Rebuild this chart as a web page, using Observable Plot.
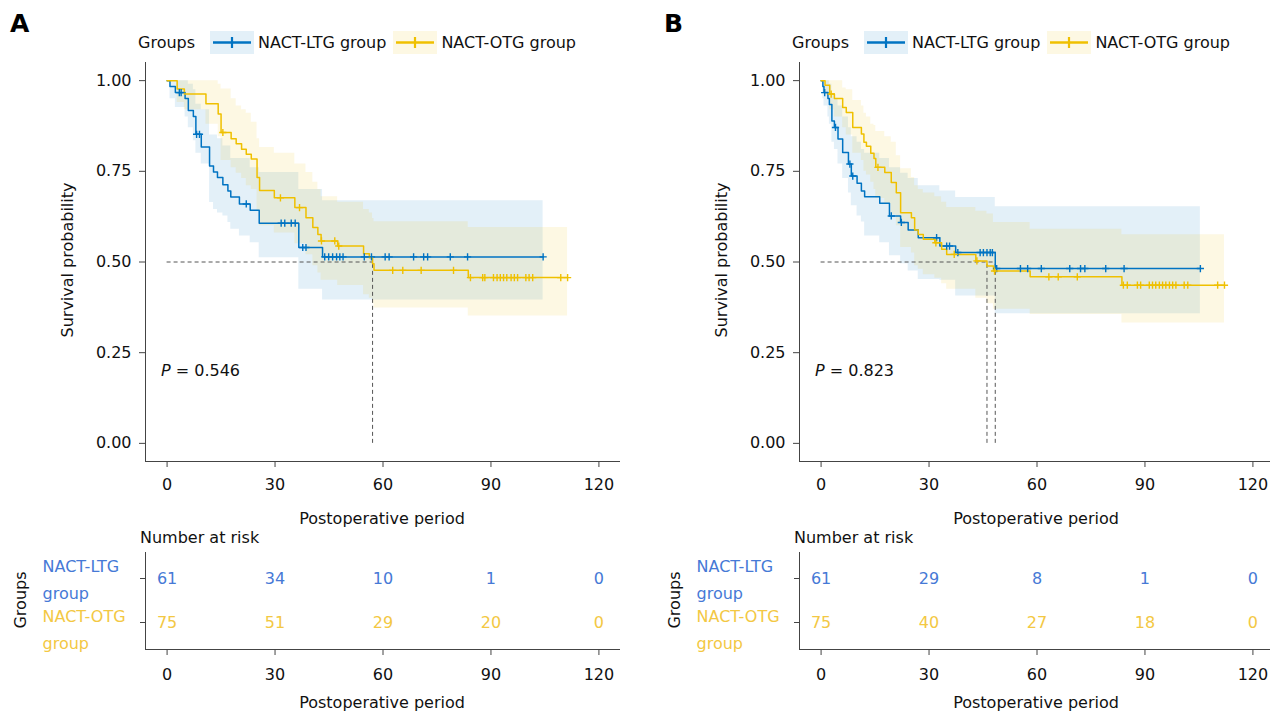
<!DOCTYPE html>
<html>
<head>
<meta charset="utf-8">
<script src="https://cdn.jsdelivr.net/npm/d3@7"></script>
<script src="https://cdn.jsdelivr.net/npm/@observablehq/plot@0.6"></script>
<style>
  html, body { margin: 0; padding: 0; background: #fff; }
  #root { position: relative; width: 1270px; height: 713px; overflow: hidden;
          font-family: "DejaVu Sans", Verdana, sans-serif; color: #111; }
  .abs { position: absolute; white-space: nowrap; line-height: 1; }
  .plotbox { position: absolute; width: 635px; }
  .plotbox svg { max-width: none !important; }
  .legend { position: absolute; display: flex; align-items: center; height: 23px; font-size: 16px; white-space: nowrap; }
  .sw { display: inline-block; width: 44px; height: 23px; margin: 0 4px 0 0; }
</style>
</head>
<body>
<div id="root"></div>
<script>
// ---------------- data ----------------
const groups = ["NACT-LTG group", "NACT-OTG group"];
const lineColors = ["#0073C2", "#EFC000"];
const tableColors = ["#4679D6", "#F3C843"];
const panelLetters = ["A", "B"];
const pValues = ["0.546", "0.823"];
const timeTicks = [0, 30, 60, 90, 120];
const survTicks = [0, 0.25, 0.5, 0.75, 1];

// Panel A, NACT-LTG: [time, survival, lower CI, upper CI]
const aLTG = [
  [0, 1, 1, 1], [0.8, 0.984, 0.95, 1], [2.3, 0.967, 0.926, 1], [5.0, 0.951, 0.90, 1],
  [5.9, 0.918, 0.87, 0.99], [7.3, 0.901, 0.834, 0.975], [8.0, 0.852, 0.80, 0.935],
  [9.5, 0.817, 0.77, 0.92], [11.8, 0.765, 0.664, 0.85], [12.9, 0.748, 0.645, 0.85],
  [14.0, 0.733, 0.635, 0.84], [15.5, 0.713, 0.627, 0.82], [16.9, 0.696, 0.609, 0.82],
  [17.7, 0.679, 0.59, 0.785], [20.1, 0.66, 0.572, 0.785], [23.1, 0.643, 0.553, 0.76],
  [25.6, 0.607, 0.512, 0.747], [36.6, 0.54, 0.425, 0.70], [43.2, 0.514, 0.395, 0.669]
];
const aLTGEnd = 104.5;
const aLTGCensor = [3.4, 3.9, 8.2, 9.0, 22.0, 31.7, 32.7, 34.5, 35.6, 37.7, 38.6, 43.8, 44.9, 46.0,
  47.1, 48.0, 48.9, 54.8, 56.8, 60.6, 61.7, 68.5, 71.3, 72.4, 78.7, 83.5, 104.5];

// Panel A, NACT-OTG
const aOTG = [
  [0, 1, 1, 1], [2.8, 0.977, 0.94, 1], [4.8, 0.963, 0.92, 1], [10.8, 0.936, 0.88, 1],
  [14.2, 0.908, 0.845, 0.99], [15.0, 0.857, 0.78, 0.977], [17.8, 0.84, 0.76, 0.95],
  [19.2, 0.826, 0.745, 0.93], [20.7, 0.811, 0.73, 0.92], [22.0, 0.797, 0.71, 0.91],
  [23.4, 0.784, 0.70, 0.885], [25.0, 0.733, 0.64, 0.84], [25.7, 0.697, 0.60, 0.816],
  [29.8, 0.677, 0.58, 0.80], [35.5, 0.65, 0.55, 0.77], [38.6, 0.622, 0.52, 0.747],
  [40.5, 0.595, 0.49, 0.72], [41.9, 0.576, 0.47, 0.70], [42.8, 0.558, 0.45, 0.68],
  [47.4, 0.544, 0.435, 0.665], [54.6, 0.523, 0.41, 0.645], [56.2, 0.512, 0.40, 0.635],
  [57.1, 0.495, 0.385, 0.62], [57.5, 0.477, 0.373, 0.611], [83.7, 0.457, 0.351, 0.595]
];
const aOTGEnd = 111.3;
const aOTGCensor = [15.5, 31.5, 36.8, 42.9, 46.6, 47.7, 62.7, 65.5, 70.6, 79.6, 84.3, 87.7, 88.3,
  90.7, 91.7, 92.6, 93.5, 94.4, 95.6, 96.5, 97.4, 99.7, 100.6, 101.6, 109.4, 111.3];
const aMedians = [57.1];

// Panel B, NACT-LTG
const bLTG = [
  [0, 1, 1, 1], [0.5, 0.984, 0.95, 1], [0.8, 0.967, 0.93, 1], [1.9, 0.951, 0.90, 1],
  [2.3, 0.934, 0.88, 0.99], [3.0, 0.889, 0.83, 0.96], [3.7, 0.871, 0.81, 0.95],
  [4.7, 0.839, 0.77, 0.93], [6.0, 0.802, 0.73, 0.90], [7.6, 0.77, 0.69, 0.87],
  [8.4, 0.737, 0.655, 0.845], [10.0, 0.717, 0.627, 0.83], [11.2, 0.696, 0.61, 0.81],
  [12.1, 0.68, 0.572, 0.80], [16.3, 0.662, 0.553, 0.785], [19.0, 0.627, 0.517, 0.76],
  [22.1, 0.609, 0.495, 0.745], [24.2, 0.588, 0.475, 0.73], [27.0, 0.567, 0.452, 0.71],
  [33.0, 0.544, 0.45, 0.696], [37.4, 0.526, 0.406, 0.678], [48.4, 0.482, 0.357, 0.652]
];
const bLTGEnd = 105.4;
const bLTGCensor = [1.0, 4.0, 8.0, 8.8, 19.5, 22.3, 32.1, 34.9, 35.7, 38.0, 44.2, 45.1, 46.1, 47.0,
  47.6, 48.8, 55.4, 57.4, 61.2, 69.1, 72.1, 73.3, 79.1, 84.2, 105.4];

// Panel B, NACT-OTG
const bOTG = [
  [0, 1, 1, 1], [1.1, 0.987, 0.96, 1], [2.4, 0.963, 0.92, 1], [3.7, 0.951, 0.90, 1],
  [6.0, 0.926, 0.87, 0.98], [7.0, 0.912, 0.85, 0.975], [8.8, 0.871, 0.80, 0.945],
  [11.2, 0.853, 0.78, 0.93], [11.9, 0.83, 0.75, 0.91], [12.6, 0.819, 0.74, 0.90],
  [13.8, 0.80, 0.72, 0.88], [14.7, 0.785, 0.70, 0.876], [15.2, 0.761, 0.675, 0.86],
  [17.7, 0.747, 0.66, 0.845], [19.5, 0.719, 0.63, 0.83], [20.9, 0.691, 0.60, 0.793],
  [22.1, 0.636, 0.54, 0.757], [25.1, 0.622, 0.525, 0.733], [26.0, 0.588, 0.49, 0.71],
  [27.0, 0.576, 0.48, 0.70], [28.4, 0.563, 0.465, 0.69], [31.6, 0.553, 0.455, 0.68],
  [33.5, 0.535, 0.44, 0.665], [34.9, 0.521, 0.425, 0.65], [43.0, 0.503, 0.40, 0.64],
  [46.1, 0.489, 0.385, 0.632], [47.9, 0.475, 0.37, 0.609], [58.1, 0.459, 0.355, 0.59],
  [83.6, 0.436, 0.332, 0.575]
];
const bOTGEnd = 112.1;
const bOTGCensor = [2.8, 15.8, 31.9, 37.0, 43.3, 48.2, 63.3, 65.9, 71.2, 84.0, 85.1, 87.9, 88.8,
  91.2, 92.1, 93.0, 94.0, 94.9, 95.8, 96.8, 97.7, 98.6, 100.9, 101.9, 110.2, 112.1];
const bMedians = [46.1, 48.4];

// Number at risk at timeTicks
const aRiskLTG = [61, 34, 10, 1, 0];
const aRiskOTG = [75, 51, 29, 20, 0];
const bRiskLTG = [61, 29, 8, 1, 0];
const bRiskOTG = [75, 40, 27, 18, 0];

// ---------------- helpers ----------------
const xDomain = [-6, 126];
const yDomain = [-0.05, 1.05];
const FONT = "'DejaVu Sans', Verdana, sans-serif";

const plusSymbol = {
  draw(ctx, size) {
    const r = Math.sqrt(size / Math.PI);
    ctx.moveTo(-r, 0); ctx.lineTo(r, 0);
    ctx.moveTo(0, -r); ctx.lineTo(0, r);
  }
};

function stepRows(steps, end) {
  const rows = steps.map(([t, s, lo, hi]) => ({t, s, lo, hi}));
  rows.push({...rows[rows.length - 1], t: end});
  return rows;
}
function survAt(rows, t) {
  let s = rows[0].s;
  for (const r of rows) if (r.t <= t) s = r.s;
  return s;
}

function survivalPlot(curves, medians) {
  const marks = [];
  curves.forEach(c => marks.push(Plot.areaY(c.rows, {
    x: "t", y1: "lo", y2: "hi", curve: "step-after", fill: c.color, fillOpacity: 0.11
  })));
  marks.push(Plot.ruleY([0.5], {x1: 0, x2: d3.max(medians), stroke: "#555", strokeWidth: 1, strokeDasharray: "4,3"}));
  marks.push(Plot.ruleX(medians, {x: d => d, y1: 0, y2: 0.5, stroke: "#555", strokeWidth: 1, strokeDasharray: "4,3"}));
  curves.forEach(c => marks.push(Plot.line(c.rows, {
    x: "t", y: "s", curve: "step-after", stroke: c.color, strokeWidth: 1.5
  })));
  curves.forEach(c => marks.push(Plot.dot(c.censor.map(t => ({t, s: survAt(c.rows, t)})), {
    x: "t", y: "s", symbol: plusSymbol, r: 3.6, stroke: c.color, fill: "none", strokeWidth: 1.4
  })));
  marks.push(Plot.ruleX([xDomain[0]], {stroke: "#444", strokeWidth: 1}));
  marks.push(Plot.ruleY([yDomain[0]], {stroke: "#444", strokeWidth: 1}));
  marks.push(Plot.axisX({ticks: timeTicks, tickSize: 6, tickPadding: 11, label: null, stroke: "#444"}));
  marks.push(Plot.axisY({ticks: survTicks, tickFormat: d3.format(".2f"), tickSize: 6, tickPadding: 8, label: null, stroke: "#444"}));
  return Plot.plot({
    width: 635, height: 530,
    marginLeft: 145, marginRight: 15, marginTop: 62, marginBottom: 69,
    x: {domain: xDomain}, y: {domain: yDomain},
    style: {fontFamily: FONT, fontSize: "16px", color: "#111", background: "none", overflow: "visible", maxWidth: "none"},
    marks
  });
}

function riskPlot(riskLTG, riskOTG) {
  const bottomLine = (index, scales, values, dims) => {
    const ln = document.createElementNS("http://www.w3.org/2000/svg", "line");
    ln.setAttribute("x1", dims.marginLeft);
    ln.setAttribute("x2", dims.width - dims.marginRight);
    ln.setAttribute("y1", dims.height - dims.marginBottom + 0.5);
    ln.setAttribute("y2", dims.height - dims.marginBottom + 0.5);
    ln.setAttribute("stroke", "#444");
    return ln;
  };
  const risks = [riskLTG, riskOTG];
  const labelShift = [-2, 4];
  const marks = [];
  groups.forEach((g, gi) => {
    marks.push(Plot.text(risks[gi], {
      x: (d, i) => timeTicks[i], y: () => g, text: d => String(d),
      fill: tableColors[gi], fontSize: 16
    }));
    marks.push(Plot.text([g], {
      y: d => d, text: d => d.replace(" ", "\n"), frameAnchor: "left",
      dx: -103, dy: labelShift[gi], textAnchor: "start", lineHeight: 1.72, fill: tableColors[gi], fontSize: 16
    }));
  });
  marks.push(Plot.ruleX([xDomain[0]], {stroke: "#444", strokeWidth: 1}));
  marks.push(bottomLine);
  marks.push(Plot.axisX({ticks: timeTicks, tickSize: 6, tickPadding: 13, label: null, stroke: "#444"}));
  marks.push(Plot.axisY({tickSize: 5, tickFormat: () => "", label: null, stroke: "#444"}));
  return Plot.plot({
    width: 635, height: 183,
    marginLeft: 145, marginRight: 15, marginTop: 22, marginBottom: 64,
    x: {domain: xDomain},
    y: {type: "point", domain: groups, range: [48, 92], padding: 0},
    style: {fontFamily: FONT, fontSize: "16px", color: "#111", background: "none", overflow: "visible", maxWidth: "none"},
    marks
  });
}

const root = document.getElementById("root");
function addDiv(html, css) {
  const d = document.createElement("div");
  d.className = "abs";
  d.innerHTML = html;
  Object.assign(d.style, css);
  root.appendChild(d);
  return d;
}
function swatch(color) {
  const rgb = d3.rgb(color);
  return `<span class="sw" style="background: rgba(${rgb.r},${rgb.g},${rgb.b},0.11)">` +
    `<svg width="44" height="23"><line x1="3" x2="41" y1="11.5" y2="11.5" stroke="${color}" stroke-width="2.6"/>` +
    `<line x1="22" x2="22" y1="6" y2="17" stroke="${color}" stroke-width="2.2"/></svg></span>`;
}

const panels = [
  {ox: 0, curves: [
      {rows: stepRows(aLTG, aLTGEnd), censor: aLTGCensor, color: lineColors[0]},
      {rows: stepRows(aOTG, aOTGEnd), censor: aOTGCensor, color: lineColors[1]}],
   medians: aMedians, risk: [aRiskLTG, aRiskOTG]},
  {ox: 654, curves: [
      {rows: stepRows(bLTG, bLTGEnd), censor: bLTGCensor, color: lineColors[0]},
      {rows: stepRows(bOTG, bOTGEnd), censor: bOTGCensor, color: lineColors[1]}],
   medians: bMedians, risk: [bRiskLTG, bRiskOTG]}
];

panels.forEach((p, pi) => {
  const ox = p.ox;
  const main = survivalPlot(p.curves, p.medians);
  const mb = document.createElement("div");
  mb.className = "plotbox"; mb.style.left = ox + "px"; mb.style.top = "0px";
  mb.appendChild(main); root.appendChild(mb);

  const tab = riskPlot(p.risk[0], p.risk[1]);
  const tb = document.createElement("div");
  tb.className = "plotbox"; tb.style.left = ox + "px"; tb.style.top = "530px";
  tb.appendChild(tab); root.appendChild(tb);

  addDiv(panelLetters[pi], {left: (ox + 10) + "px", top: "11px", fontSize: "25px", fontWeight: "bold", color: "#000"});
  const lg = document.createElement("div");
  lg.className = "legend";
  lg.style.left = (ox + 138) + "px"; lg.style.top = "31px";
  lg.innerHTML = `<span style="margin-right:15px">Groups</span>` +
    swatch(lineColors[0]) + `<span style="margin-right:7px">${groups[0]}</span>` +
    swatch(lineColors[1]) + `<span>${groups[1]}</span>`;
  root.appendChild(lg);
  addDiv("Survival probability", {left: (ox + 68) + "px", top: "260px", fontSize: "16px",
    transform: "translate(-50%,-50%) rotate(-90deg)"});
  addDiv("Postoperative period", {left: (ox + 382) + "px", top: "519px", fontSize: "16px",
    transform: "translate(-50%,-50%)"});
  addDiv(`<i>P</i> = ${pValues[pi]}`, {left: (ox + 161) + "px", top: "371px", fontSize: "16px",
    transform: "translate(0,-50%)"});
  addDiv("Number at risk", {left: (ox + 140) + "px", top: "538px", fontSize: "16px",
    transform: "translate(0,-50%)"});
  addDiv("Groups", {left: (ox + 21) + "px", top: "600px", fontSize: "16px",
    transform: "translate(-50%,-50%) rotate(-90deg)"});
  addDiv("Postoperative period", {left: (ox + 382) + "px", top: "703px", fontSize: "16px",
    transform: "translate(-50%,-50%)"});
});
</script>
</body>
</html>
